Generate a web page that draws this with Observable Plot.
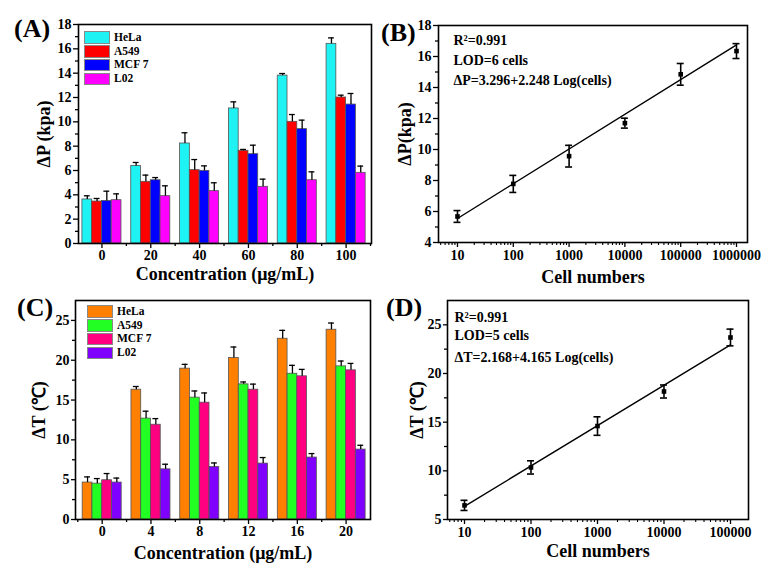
<!DOCTYPE html>
<html><head><meta charset="utf-8">
<script src="https://cdn.jsdelivr.net/npm/d3@7"></script>
<script src="https://cdn.jsdelivr.net/npm/@observablehq/plot@0.6"></script>
<style>
body{margin:0;background:#fff;}
#fig{position:relative;width:764px;height:568px;overflow:hidden;font-family:"Liberation Serif","Times New Roman",serif;font-weight:bold;color:#000;}
.panel{position:absolute;}
.plabel{position:absolute;font-size:26px;font-weight:bold;line-height:1;}
.legend{position:absolute;font-size:11.5px;line-height:1;}
.legend .row{display:flex;align-items:center;height:13.9px;}
.legend .sw{width:24px;height:10.5px;border:1px solid #888;margin-right:4px;box-sizing:content-box;}
</style>
</head><body>
<div id="fig"></div>
<script>
// ---------- Panel A data ----------
const concA = ["0","20","40","60","80","100"];
const seriesA = ["HeLa","A549","MCF 7","L02"];
const helaA = [3.62,6.38,8.22,11.1,13.8,16.41];
const a549A = [3.45,5.07,6.03,7.62,10.0,12.0];
const mcf7A = [3.5,5.2,5.97,7.34,9.4,11.42];
const l02A  = [3.56,3.89,4.3,4.66,5.2,5.81];
const helaAErr = [0.30,0.28,0.88,0.54,0.17,0.49];
const a549AErr = [0.25,0.55,0.87,0.11,0.60,0.19];
const mcf7AErr = [0.80,0.22,0.41,0.74,0.74,0.91];
const l02AErr  = [0.52,0.85,0.69,0.63,0.69,0.55];
const yTicksA = [0,2,4,6,8,10,12,14,16,18];

// ---------- Panel B data ----------
const cellsB = [10,100,1000,10000,100000,1000000];
const dpB    = [5.68,7.78,9.57,11.7,14.85,16.35];
const dpBErr = [0.38,0.55,0.7,0.32,0.7,0.48];
const fitXB = [10,1000000];
const fitYB = [5.55,16.75];
const xTicksB = [10,100,1000,10000,100000,1000000];
const xTickLabelsB = ["10","100","1000","10000","100000","1000000"];
const yTicksB = [4,6,8,10,12,14,16,18];
const notesB = ["R²=0.991","LOD=6 cells","ΔP=3.296+2.248 Log(cells)"];

// ---------- Panel C data ----------
const concC = ["0","4","8","12","16","20"];
const seriesC = ["HeLa","A549","MCF 7","L02"];
const helaC = [4.64,16.3,18.94,20.27,22.7,23.83];
const a549C = [4.5,12.67,15.3,16.97,18.3,19.23];
const mcf7C = [4.93,11.9,14.67,16.3,17.98,18.73];
const l02C  = [4.64,6.3,6.6,7.02,7.78,8.78];
const helaCErr = [0.71,0.40,0.54,1.39,1.05,0.84];
const a549CErr = [0.64,0.93,0.84,0.30,1.06,0.67];
const mcf7CErr = [0.84,0.77,1.22,0.70,0.87,0.87];
const l02CErr  = [0.56,0.64,0.50,0.76,0.50,0.54];
const yTicksC = [0,5,10,15,20,25];

// ---------- Panel D data ----------
const cellsD = [10,100,1000,10000,100000];
const dtD    = [6.45,10.35,14.6,18.15,23.7];
const dtDErr = [0.52,0.68,0.95,0.67,0.86];
const fitXD = [10,100000];
const fitYD = [6.35,22.95];
const xTicksD = [10,100,1000,10000,100000];
const xTickLabelsD = ["10","100","1000","10000","100000"];
const yTicksD = [5,10,15,20,25];
const notesD = ["R²=0.991","LOD=5 cells","ΔT=2.168+4.165 Log(cells)"];

// ---------- styles ----------
const colorsA = ["#1EF2F2","#FF0000","#0000FF","#FF00FF"];
const colorsC = ["#FF8000","#22FF22","#FF0080","#8000FF"];
const FONT = '"Liberation Serif","Times New Roman",serif';
const TICKFS = 14;
const fig = document.getElementById("fig");

function place(el, left, top){ el.classList.add("panel"); el.style.left=left+"px"; el.style.top=top+"px"; fig.appendChild(el); }

function labelMarks(o){
  return [
    Plot.text([o.ylabel],{text:d=>d, frameAnchor:"left", textAnchor:"middle", lineAnchor:"middle", dx:o.ydx, rotate:-90, fontSize:18}),
    Plot.text([o.xlabel],{text:d=>d, frameAnchor:"bottom", textAnchor:"middle", lineAnchor:"middle", dy:o.xdy, fontSize:18})
  ];
}

function barPanel(o){
  const rows = [];
  o.values.forEach((vals, s) => vals.forEach((v, i) => {
    const x1 = i - 0.4 + 0.2*s;
    rows.push({i, s, series:o.series[s], value:v, err:o.errs[s][i], x1, x2:x1+0.2, xc:x1+0.1});
  }));
  const minorY = [];
  for (let k=0;k<o.yTicks.length-1;k++) minorY.push((o.yTicks[k]+o.yTicks[k+1])/2);
  const minorX = d3.range(o.conc.length+1).map(i=>i-0.5);
  return Plot.plot({
    width:o.width, height:o.height,
    marginLeft:o.m[0], marginRight:o.m[1], marginTop:o.m[2], marginBottom:o.m[3],
    style:{fontFamily:FONT, fontWeight:"bold", fontSize:"14px", background:"transparent", color:"#000", overflow:"visible"},
    x:{domain:o.xDomain, axis:null},
    y:{domain:o.yDomain, axis:null},
    color:{domain:o.series, range:o.colors},
    marks:[
      Plot.rectY(rows,{x1:"x1", x2:"x2", y1:0, y2:"value", fill:"series", stroke:"#555", strokeWidth:0.8}),
      Plot.ruleX(rows,{x:"xc", y1:"value", y2:d=>d.value+d.err, stroke:"#000", strokeWidth:1.3}),
      Plot.ruleY(rows,{x1:d=>d.xc-0.06, x2:d=>d.xc+0.06, y:d=>d.value+d.err, stroke:"#000", strokeWidth:1.3}),
      Plot.axisY({ticks:o.yTicks, tickSize:o.ts, tickPadding:2, label:null, strokeWidth:1.3, fontSize:TICKFS}),
      Plot.axisY({ticks:minorY, tickSize:3, tickFormat:()=>"", label:null, strokeWidth:1.3}),
      Plot.axisX({ticks:d3.range(o.conc.length), tickFormat:i=>o.conc[i], tickSize:5, tickPadding:2, label:null, strokeWidth:1.3, fontSize:TICKFS}),
      Plot.axisX({ticks:minorX.filter(v=>v>o.xDomain[0]&&v<o.xDomain[1]), tickSize:3, tickFormat:()=>"", label:null, strokeWidth:1.3}),
      ...labelMarks(o),
      Plot.frame({stroke:"#000", strokeWidth:1.6})
    ]
  });
}

function notesMarks(notes, dx, dys){
  return notes.map((t,i)=>Plot.text([t],{text:d=>d, frameAnchor:"top-left", textAnchor:"start", lineAnchor:"middle", dx, dy:dys[i], fontSize:14}));
}

function scatterPanel(o){
  const pts = o.x.map((x,i)=>({x, v:o.y[i], e:o.err[i]}));
  const fit = o.fitX.map((x,i)=>({x, y:o.fitY[i]}));
  const minorY = [];
  for (let k=0;k<o.yTicks.length-1;k++) minorY.push((o.yTicks[k]+o.yTicks[k+1])/2);
  const minorX = [];
  for (let p=0;p<8;p++) for (let m=2;m<=9;m++){ const v=m*Math.pow(10,p); if(v>o.xDomain[0]&&v<o.xDomain[1]) minorX.push(v); }
  const cf = o.cap;
  return Plot.plot({
    width:o.width, height:o.height,
    marginLeft:o.m[0], marginRight:o.m[1], marginTop:o.m[2], marginBottom:o.m[3],
    style:{fontFamily:FONT, fontWeight:"bold", fontSize:"14px", background:"transparent", color:"#000", overflow:"visible"},
    x:{type:"log", domain:o.xDomain, axis:null},
    y:{domain:o.yDomain, axis:null},
    marks:[
      Plot.line(fit,{x:"x", y:"y", stroke:"#000", strokeWidth:1.4}),
      Plot.ruleX(pts,{x:"x", y1:d=>d.v-d.e, y2:d=>d.v+d.e, stroke:"#000", strokeWidth:1.6}),
      Plot.ruleY(pts,{x1:d=>d.x/cf, x2:d=>d.x*cf, y:d=>d.v+d.e, stroke:"#000", strokeWidth:1.6}),
      Plot.ruleY(pts,{x1:d=>d.x/cf, x2:d=>d.x*cf, y:d=>d.v-d.e, stroke:"#000", strokeWidth:1.6}),
      Plot.dot(pts,{x:"x", y:"v", symbol:"square", r:2.6, fill:"#000"}),
      Plot.axisY({ticks:o.yTicks, tickSize:o.ts, tickPadding:2, label:null, strokeWidth:1.3, fontSize:TICKFS}),
      Plot.axisY({ticks:minorY, tickSize:3, tickFormat:()=>"", label:null, strokeWidth:1.3}),
      Plot.axisX({ticks:o.xTicks, tickFormat:d=>o.xLabels[o.xTicks.indexOf(d)], tickSize:5, tickPadding:3, label:null, strokeWidth:1.3, fontSize:TICKFS}),
      Plot.axisX({ticks:minorX, tickSize:3, tickFormat:()=>"", label:null, strokeWidth:1.1}),
      ...notesMarks(o.notes, o.ndx, o.ndy),
      ...labelMarks(o),
      Plot.frame({stroke:"#000", strokeWidth:1.6})
    ]
  });
}

const pA = barPanel({width:380,height:290,m:[78,9,24,47],conc:concA,series:seriesA,
  values:[helaA,a549A,mcf7A,l02A], errs:[helaAErr,a549AErr,mcf7AErr,l02AErr], colors:colorsA,
  xDomain:[-0.48,5.52], yDomain:[0,18], yTicks:yTicksA, ts:5,
  ylabel:"ΔP (kpa)", ydx:-34, xlabel:"Concentration (μg/mL)", xdy:31});
place(pA,0,0);

const pB = scatterPanel({width:384,height:290,m:[58,17,25,48],x:cellsB,y:dpB,err:dpBErr,fitX:fitXB,fitY:fitYB,
  xDomain:[4.57,1.574e6], yDomain:[4,18], yTicks:yTicksB, xTicks:xTicksB, xLabels:xTickLabelsB, ts:5, cap:1.155,
  notes:notesB, ndx:15, ndy:[15,35,55], ylabel:"ΔP(kpa)", ydx:-33, xlabel:"Cell numbers", xdy:35});
place(pB,380,0);

const pC = barPanel({width:380,height:283,m:[75,10,15,49],conc:concC,series:seriesC,
  values:[helaC,a549C,mcf7C,l02C], errs:[helaCErr,a549CErr,mcf7CErr,l02CErr], colors:colorsC,
  xDomain:[-0.547,5.5], yDomain:[0,27.5], yTicks:yTicksC, ts:4,
  ylabel:"ΔT (℃)", ydx:-36.5, xlabel:"Concentration (μg/mL)", xdy:33.5});
place(pC,0,285);

const pD = scatterPanel({width:384,height:283,m:[67,16,15,49],x:cellsD,y:dtD,err:dtDErr,fitX:fitXD,fitY:fitYD,
  xDomain:[5.55,1.866e5], yDomain:[5,27.5], yTicks:yTicksD, xTicks:xTicksD, xLabels:xTickLabelsD, ts:4, cap:1.129,
  notes:notesD, ndx:7, ndy:[16.7,35,56.7], ylabel:"ΔT (℃)", ydx:-30.5, xlabel:"Cell numbers", xdy:32});
place(pD,380,285);

// legends
function legend(series, colors, left, top){
  const div = document.createElement("div");
  div.className="legend"; div.style.left=left+"px"; div.style.top=top+"px";
  series.forEach((s,i)=>{
    const r=document.createElement("div"); r.className="row";
    const sw=document.createElement("div"); sw.className="sw"; sw.style.background=colors[i];
    const t=document.createElement("span"); t.textContent=s;
    r.appendChild(sw); r.appendChild(t); div.appendChild(r);
  });
  fig.appendChild(div);
}
legend(seriesA, colorsA, 84, 30.5);
legend(seriesC, colorsC, 87, 304.5);

// panel labels
[["(A)",14,16],["(B)",381,19.5],["(C)",17,294.5],["(D)",386,294.5]].forEach(([t,l,tp])=>{
  const d=document.createElement("div"); d.className="plabel"; d.textContent=t; d.style.left=l+"px"; d.style.top=tp+"px"; fig.appendChild(d);
});
</script>
</body></html>
